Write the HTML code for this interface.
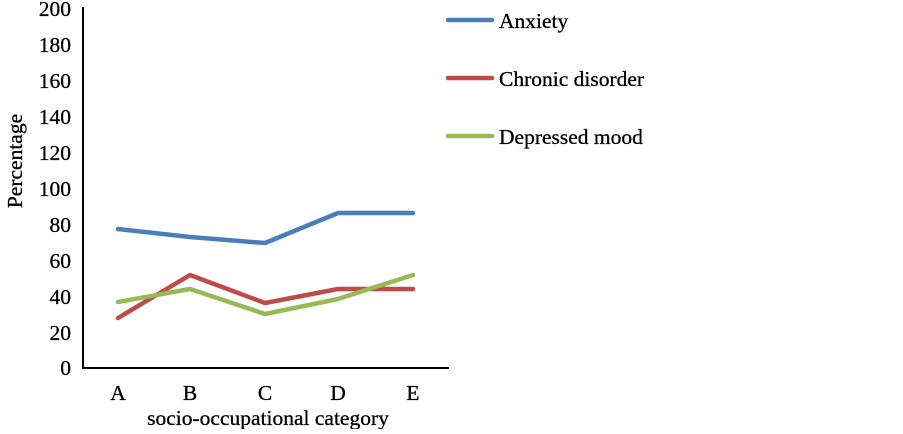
<!DOCTYPE html>
<html><head><style>body{margin:0;background:#fff}</style></head><body>
<svg width="903" height="429" xmlns="http://www.w3.org/2000/svg" font-family="Liberation Serif, serif" fill="#000">
<line x1="83" y1="7" x2="83" y2="369" stroke="#000" stroke-width="2"/>
<line x1="82" y1="368" x2="449" y2="368" stroke="#000" stroke-width="2"/>
<g stroke="#000" stroke-width="0.3">
<g font-size="21.5" text-anchor="end">
<text x="71" y="16">200</text><text x="71" y="52">180</text><text x="71" y="88">160</text>
<text x="71" y="124">140</text><text x="71" y="160">120</text><text x="71" y="196">100</text>
<text x="71" y="232">80</text><text x="71" y="268">60</text><text x="71" y="304">40</text>
<text x="71" y="340">20</text><text x="71" y="375">0</text>
</g>
<g font-size="21.5" text-anchor="middle">
<text x="118" y="400">A</text><text x="190" y="400">B</text><text x="265" y="400">C</text><text x="338" y="400">D</text><text x="413" y="400">E</text>
<text x="268" y="425">socio-occupational category</text>
</g>
<text font-size="21.5" transform="translate(22,161) rotate(-90)" text-anchor="middle">Percentage</text>
<g font-size="21.5">
<text x="499" y="28">Anxiety</text>
<text x="499" y="86">Chronic disorder</text>
<text x="499" y="144">Depressed mood</text>
</g>
</g>
<g fill="none" stroke-width="4.5" stroke-linejoin="round" stroke-linecap="round">
<polyline stroke="#4a7ebb" points="118,229 190,237 265,243 338,213 413,213"/>
<polyline stroke="#be4b48" points="118,318 190,275 265,303 338,289 413,289"/>
<polyline stroke="#98b954" points="118,302 190,289 265,314 338,299 413,275"/>
<line stroke="#4a7ebb" x1="448" y1="20" x2="492" y2="20"/>
<line stroke="#be4b48" x1="448" y1="78" x2="492" y2="78"/>
<line stroke="#98b954" x1="448" y1="136" x2="492" y2="136"/>
</g>
</svg>
</body></html>
